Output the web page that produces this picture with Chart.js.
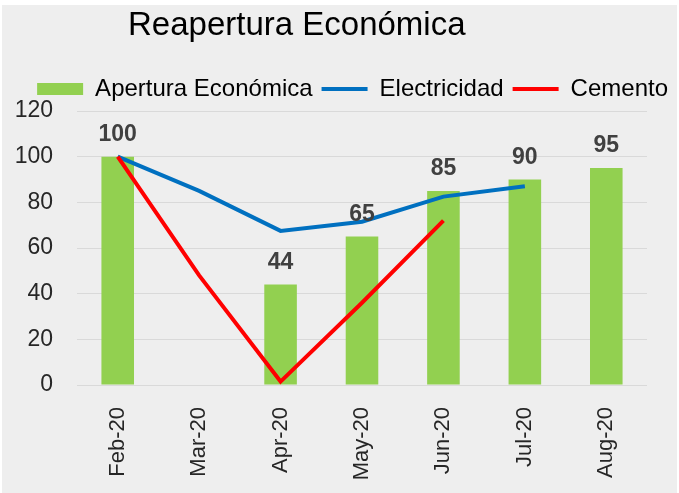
<!DOCTYPE html>
<html>
<head>
<meta charset="utf-8">
<script src="https://cdn.jsdelivr.net/npm/chart.js@4"></script>
<style>
  html, body { margin: 0; padding: 0; background: #ffffff; }
  #wrap { position: absolute; left: 2px; top: 5px; width: 675px; height: 488px; background: #eeeeee; }
</style>
</head>
<body>
<div id="wrap"><canvas id="chart" width="675" height="488"></canvas></div>
<script>
// ====== DATOS ======
const titulo = "Reapertura Económica";
const meses = ["Feb-20", "Mar-20", "Apr-20", "May-20", "Jun-20", "Jul-20", "Aug-20"];
const apertura = [100, null, 44, 65, 85, 90, 95];
const electricidad = [100, 85, 67.5, 71.5, 82.5, 87, null];
const cemento = [100, 48, 1.5, 36, 72, null, null];
const yTicks = [0, 20, 40, 60, 80, 100, 120];

const textColor = "#262626";

// Titulo dibujado a mano (no centrado en el canvas)
const tituloPlugin = {
  id: "tituloPlugin",
  afterDraw(chart) {
    const ctx = chart.ctx;
    ctx.save();
    ctx.font = "33px 'Liberation Sans', Arial, sans-serif";
    ctx.fillStyle = "#000000";
    ctx.textAlign = "left";
    ctx.textBaseline = "alphabetic";
    ctx.fillText(titulo, 126, 30);
    ctx.restore();
  }
};

// Etiquetas de valor encima de las barras
const etiquetasPlugin = {
  id: "etiquetasPlugin",
  afterDatasetsDraw(chart) {
    const ctx = chart.ctx;
    const meta = chart.getDatasetMeta(0);
    ctx.save();
    ctx.font = "bold 23px 'Liberation Sans', Arial, sans-serif";
    ctx.fillStyle = "#404040";
    ctx.textAlign = "center";
    ctx.textBaseline = "alphabetic";
    meta.data.forEach((bar, i) => {
      const v = apertura[i];
      if (v === null) return;
      ctx.fillText(String(v), bar.x, bar.y - 16);
    });
    ctx.restore();
  }
};

const ctx = document.getElementById("chart").getContext("2d");

new Chart(ctx, {
  type: "bar",
  data: {
    labels: meses,
    datasets: [
      {
        type: "bar",
        label: "Apertura Económica",
        data: apertura,
        backgroundColor: "#92d050",
        borderWidth: 0,
        barPercentage: 0.4,
        categoryPercentage: 1,
        pointStyle: "rect",
        order: 2
      },
      {
        type: "line",
        label: "Electricidad",
        data: electricidad,
        borderColor: "#0070c0",
        backgroundColor: "#0070c0",
        borderWidth: 4,
        pointRadius: 0,
        tension: 0,
        pointStyle: "line",
        order: 1
      },
      {
        type: "line",
        label: "Cemento",
        data: cemento,
        borderColor: "#ff0000",
        backgroundColor: "#ff0000",
        borderWidth: 4,
        pointRadius: 0,
        tension: 0,
        pointStyle: "line",
        order: 0
      }
    ]
  },
  options: {
    responsive: false,
    animation: false,
    layout: { padding: { left: 0, top: 63, right: 0, bottom: 0 } },
    plugins: {
      title: { display: false },
      tooltip: { enabled: false },
      legend: {
        display: true,
        position: "top",
        align: "end",
        labels: {
          usePointStyle: true,
          pointStyleWidth: 46,
          boxHeight: 12,
          padding: 9,
          color: "#000000",
          font: { family: "'Liberation Sans', Arial, sans-serif", size: 24 },
          sort: (a, b) => a.datasetIndex - b.datasetIndex
        }
      }
    },
    scales: {
      x: {
        grid: { display: false },
        border: { display: false },
        ticks: {
          color: textColor,
          font: { family: "'Liberation Sans', Arial, sans-serif", size: 22 },
          minRotation: 90,
          maxRotation: 90,
          padding: 14
        },
        afterFit: s => { s.height = 108; }
      },
      y: {
        min: 0,
        max: 120,
        afterBuildTicks: s => { s.ticks = yTicks.map(v => ({ value: v })); },
        grid: { color: "#d9d9d9", lineWidth: 1, drawTicks: false },
        border: { display: false },
        ticks: {
          color: textColor,
          font: { family: "'Liberation Sans', Arial, sans-serif", size: 23 },
          padding: 24
        },
        afterFit: s => { s.width = 75; }
      },
      y2: {
        position: "right",
        display: true,
        grid: { display: false },
        border: { display: false },
        ticks: { display: false },
        afterFit: s => { s.width = 30; }
      }
    }
  },
  plugins: [tituloPlugin, etiquetasPlugin]
});
</script>
</body>
</html>
